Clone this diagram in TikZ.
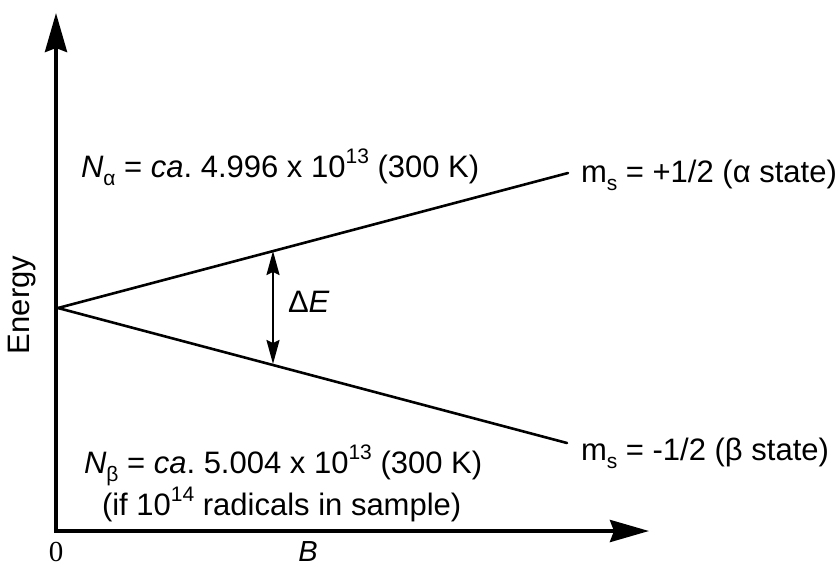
\documentclass[tikz,border=0pt]{standalone}
\usepackage{fontspec}
\setmainfont{Liberation Sans}
\newfontfamily\seriffont{Liberation Serif}
\usetikzlibrary{arrows.meta}
\newcommand\lsub[1]{\raisebox{-0.26em}{\fontsize{21}{21}\selectfont #1}}
\newcommand\lsup[1]{\raisebox{0.42em}{\fontsize{21}{21}\selectfont #1}}
\frenchspacing
\tikzset{
  axis/.style={line width=4pt, -{Stealth[length=39pt, width=22pt, inset=4pt]}},
  level/.style={line width=2.6pt, line cap=round},
  gap/.style={line width=2pt, {Stealth[length=24pt, width=13pt, inset=3pt]}-{Stealth[length=24pt, width=13pt, inset=3pt]}},
  lbl/.style={inner sep=0pt, outer sep=0pt, font=\fontsize{31}{37}\selectfont},
}
\begin{document}
\begin{tikzpicture}[x=1pt, y=-1pt]
\useasboundingbox (0,0) rectangle (840,566);
\coordinate (O) at (56,531);
\coordinate (Ytop) at (56,13);
\coordinate (Xend) at (649,531);
\coordinate (V) at (58,308);
\coordinate (Aend) at (568,173);
\coordinate (Bend) at (567,443);
\coordinate (Dtop) at (273,251);
\coordinate (Dbot) at (273,364);
\draw[axis] (O) -- (Ytop);
\draw[axis] ([xshift=-2pt]O) -- (Xend);
\draw[level] (V) -- (Aend);
\draw[level] (V) -- (Bend);
\draw[gap] (Dtop) -- (Dbot);
\node[lbl, anchor=base west] (na) at (81,177) {\textit{N}\lsub{α} = \textit{ca}. 4.996 x 10\lsup{13} (300 K)};
\node[lbl, anchor=base west] (nb) at (84,473) {\textit{N}\lsub{β} = \textit{ca}. 5.004 x 10\lsup{13} (300 K)};
\node[lbl, anchor=base west] (nr) at (102,515) {(if 10\lsup{14} radicals in sample)};
\node[lbl, anchor=base west] (ma) at (581,182) {m\lsub{s} = +1/2 (α state)};
\node[lbl, anchor=base west] (mb) at (581,460) {m\lsub{s} = -1/2 (β state)};
\node[lbl, anchor=base west] (de) at (288,312) {Δ\textit{E}};
\node[lbl, rotate=90, anchor=center] (en) at (22,305) {Energy};
\node[lbl, anchor=base, font=\fontsize{29}{34}\selectfont] (zero) at (56,561) {\seriffont 0};
\node[lbl, anchor=base, font=\fontsize{29}{34}\selectfont] (bb) at (308,561) {\textit{B}};
\end{tikzpicture}
\end{document}
